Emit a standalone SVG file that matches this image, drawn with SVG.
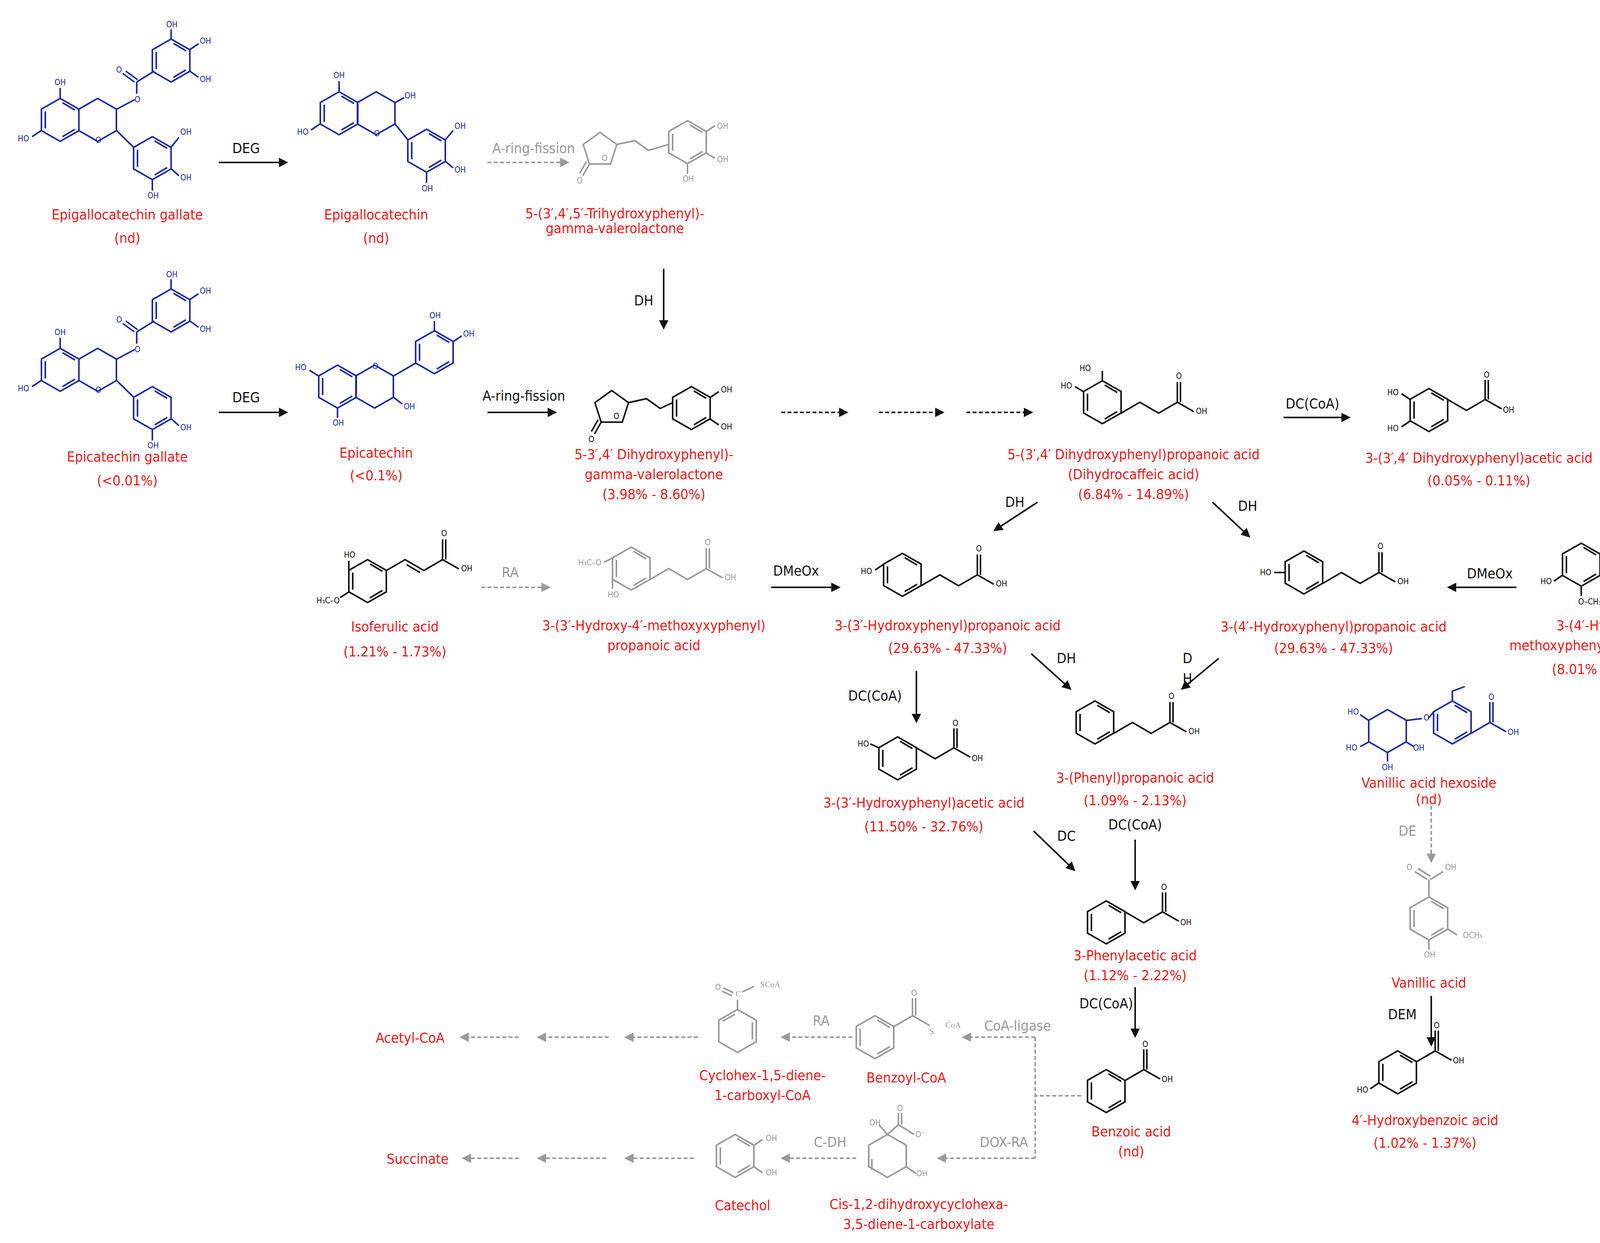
<svg xmlns="http://www.w3.org/2000/svg" width="5008" height="3183" viewBox="0 0 5008 3183">
<style>
.lbl{font-family:"Liberation Sans Narrow","DejaVu Sans Condensed","Liberation Sans",sans-serif;font-size:36px;fill:#f01818;text-anchor:middle}
.al{font-family:"Liberation Sans Narrow","DejaVu Sans Condensed","Liberation Sans",sans-serif;font-size:36px;fill:#111;text-anchor:middle}
.alg{fill:#999}
.at{font-family:"Liberation Sans Narrow","DejaVu Sans Condensed","Liberation Sans",sans-serif;font-size:21px;fill:currentColor;text-anchor:middle}
.k{color:#111}.g{color:#999}.b{color:#1a2aa0}
.bd{fill:none;stroke:currentColor;stroke-width:4}
.ar{stroke:#111;stroke-width:4;fill:none}
.ag{stroke:#999;stroke-width:4;fill:none;stroke-dasharray:10 6}
.ak{stroke:#111;stroke-width:4;fill:none;stroke-dasharray:10 6}
</style>
<defs>
<marker id="mk" markerWidth="6" markerHeight="6" refX="5" refY="3" orient="auto" markerUnits="strokeWidth"><path d="M0,0L6,3L0,6Z" fill="#111"/></marker>
<marker id="mg" markerWidth="6" markerHeight="6" refX="5" refY="3" orient="auto" markerUnits="strokeWidth"><path d="M0,0L6,3L0,6Z" fill="#999"/></marker>
<g id="bz" class="bd"><path d="M0,-55L48,-27.5L48,27.5L0,55L-48,27.5L-48,-27.5Z"/><path d="M6,-44L38,-25M38,24L6,43M-38,22L-38,-22"/></g>
<g id="hx" class="bd"><path d="M0,-55L48,-27.5L48,27.5L0,55L-48,27.5L-48,-27.5Z"/></g>
<g id="pent" class="bd"><path d="M0,-45L43,-14L27,36L-27,36L-43,-14Z"/></g>
<g id="prop"><path class="bd" d="M0,0L48,-28L96,0L144,-28L144,-80M152,-28L152,-80M144,-28L186,-4"/><text class="at" x="148" y="-88">O</text><text class="at" x="206" y="2">OH</text></g>
<g id="acet"><path class="bd" d="M0,0L48,28L96,0L96,-50M104,0L104,-50M96,0L138,24"/><text class="at" x="100" y="-56">O</text><text class="at" x="156" y="34">OH</text></g>
<g id="cooh"><path class="bd" d="M0,0L48,-28L48,-80M56,-28L56,-80M48,-28L90,-4"/><text class="at" x="52" y="-86">O</text><text class="at" x="108" y="4">OH</text></g>
<g id="acry"><path class="bd" d="M0,0L48,-28L96,0L144,-28L144,-80M152,-28L152,-80M144,-28L186,-4M52,-15L86,5"/><text class="at" x="148" y="-88">O</text><text class="at" x="206" y="2">OH</text></g>
</defs>

<g id="egcg" class="b">
<use href="#bz" x="154" y="307"/><use href="#hx" x="250" y="307"/>
<path class="bd" d="M154,252L154,225M106,334L82,350M298,280L345,255M350,240L350,210M350,210L395,182M344,210L314,188M352,204L322,182M298,334L342,377"/>
<use href="#bz" x="438" y="155"/><use href="#bz" x="390" y="405"/>
<path class="bd" d="M438,100L438,75M486,127L508,112M486,182L508,198M438,377L458,352M438,432L458,450M390,460L390,488"/>
<text class="at" x="154" y="218">OH</text><text class="at" x="60" y="362">HO</text><text class="at" x="252" y="366">O</text>
<text class="at" x="352" y="262">O</text><text class="at" x="305" y="186">O</text>
<text class="at" x="440" y="70">OH</text><text class="at" x="526" y="112">OH</text><text class="at" x="526" y="210">OH</text>
<text class="at" x="476" y="345">OH</text><text class="at" x="476" y="462">OH</text><text class="at" x="392" y="508">OH</text>
</g>
<g id="egc" class="b">
<use href="#bz" x="868" y="290"/><use href="#hx" x="963" y="290"/>
<path class="bd" d="M868,235L868,208M820,317L796,333M1011,263L1035,250M1011,317L1044,358"/>
<use href="#bz" x="1092" y="386"/>
<path class="bd" d="M1140,358L1160,334M1140,413L1160,430M1092,441L1092,468"/>
<text class="at" x="868" y="200">OH</text><text class="at" x="775" y="345">HO</text><text class="at" x="965" y="349">O</text><text class="at" x="1050" y="252">OH</text>
<text class="at" x="1178" y="330">OH</text><text class="at" x="1178" y="442">OH</text><text class="at" x="1094" y="490">OH</text>
</g>
<g id="thpvl" class="g">
<use href="#pent" x="1536" y="384"/>
<path class="bd" d="M1509,420L1492,450M1501,414L1484,444M1579,370L1625,360L1660,385L1712,370"/>
<use href="#bz" x="1760" y="364"/>
<path class="bd" d="M1808,337L1830,322M1808,392L1830,405M1760,419L1760,445"/>
<text class="at" x="1484" y="470">O</text><text class="at" x="1548" y="412">O</text>
<text class="at" x="1850" y="330">OH</text><text class="at" x="1850" y="415">OH</text><text class="at" x="1762" y="465">OH</text>
</g>
<g id="ecg" class="b">
<use href="#bz" x="154" y="947"/><use href="#hx" x="250" y="947"/>
<path class="bd" d="M154,892L154,865M106,974L82,990M298,920L345,895M350,880L350,850M350,850L395,822M344,850L314,828M352,844L322,822M298,974L342,1017"/>
<use href="#bz" x="438" y="795"/><use href="#bz" x="390" y="1045"/>
<path class="bd" d="M438,740L438,715M486,767L508,752M486,822L508,838M438,1072L458,1090M390,1100L390,1128"/>
<text class="at" x="154" y="858">OH</text><text class="at" x="60" y="1002">HO</text><text class="at" x="252" y="1006">O</text>
<text class="at" x="352" y="902">O</text><text class="at" x="305" y="826">O</text>
<text class="at" x="440" y="710">OH</text><text class="at" x="526" y="752">OH</text><text class="at" x="526" y="850">OH</text>
<text class="at" x="476" y="1102">OH</text><text class="at" x="392" y="1148">OH</text>
</g>
<g id="ec" class="b">
<use href="#bz" x="864" y="990"/><use href="#hx" x="959" y="990"/>
<path class="bd" d="M816,963L792,948M864,1045L864,1070M1007,1017L1030,1035M1007,963L1064,930"/>
<use href="#bz" x="1112" y="902"/>
<path class="bd" d="M1112,847L1112,822M1160,875L1182,860"/>
<text class="at" x="770" y="948">HO</text><text class="at" x="866" y="1090">OH</text><text class="at" x="961" y="945">O</text><text class="at" x="1048" y="1048">OH</text>
<text class="at" x="1114" y="815">OH</text><text class="at" x="1200" y="862">OH</text>
</g>
<g id="dhpvl" class="k">
<use href="#pent" x="1566" y="1045"/>
<path class="bd" d="M1539,1081L1522,1111M1531,1075L1514,1105M1609,1031L1655,1021L1690,1046L1722,1031"/>
<use href="#bz" x="1770" y="1045"/>
<path class="bd" d="M1818,1018L1840,1003M1818,1073L1840,1088"/>
<text class="at" x="1514" y="1132">O</text><text class="at" x="1578" y="1073">O</text>
<text class="at" x="1860" y="1005">OH</text><text class="at" x="1860" y="1100">OH</text>
</g>
<g id="dhca" class="k">
<use href="#bz" x="2822" y="1030"/>
<path class="bd" d="M2822,975L2822,950M2774,1003L2752,990"/>
<use href="#prop" x="2870" y="1058"/>
<text class="at" x="2778" y="950">HO</text><text class="at" x="2730" y="995">HO</text>
</g>
<g id="dopac" class="k">
<use href="#bz" x="3658" y="1050"/>
<path class="bd" d="M3610,1023L3588,1008M3610,1078L3588,1093"/>
<use href="#acet" x="3706" y="1023"/>
<text class="at" x="3566" y="1012">HO</text><text class="at" x="3566" y="1104">HO</text>
</g>
<g id="isoferulic" class="k">
<use href="#bz" x="941" y="1488"/>
<path class="bd" d="M893,1461L893,1436M893,1516L871,1530"/>
<use href="#acry" x="989" y="1461"/>
<text class="at" x="895" y="1428">HO</text><text class="at" x="840" y="1545">H₃C–O</text>
</g>
<g id="hmpp" class="g">
<use href="#bz" x="1616" y="1456"/>
<path class="bd" d="M1568,1429L1546,1440M1568,1484L1568,1508"/>
<use href="#prop" x="1664" y="1484"/>
<text class="at" x="1510" y="1448">H₃C–O</text><text class="at" x="1570" y="1530">HO</text>
</g>
<g id="hpp3" class="k">
<use href="#bz" x="2310" y="1472"/>
<path class="bd" d="M2262,1445L2240,1460"/>
<use href="#prop" x="2358" y="1500"/>
<text class="at" x="2218" y="1470">HO</text>
</g>
<g id="hpp4" class="k">
<use href="#bz" x="3338" y="1466"/>
<path class="bd" d="M3290,1466L3262,1466"/>
<use href="#prop" x="3386" y="1494"/>
<text class="at" x="3240" y="1473">HO</text>
</g>
<g id="hmpp2" class="k">
<use href="#bz" x="4048" y="1446"/>
<path class="bd" d="M4000,1473L3978,1488M4048,1501L4048,1526"/>
<use href="#prop" x="4096" y="1419"/>
<text class="at" x="3958" y="1496">HO</text><text class="at" x="4070" y="1548">O–CH₃</text>
</g>
<g id="ferulic" class="k">
<use href="#bz" x="4758" y="1491"/>
<path class="bd" d="M4710,1464L4710,1439M4710,1519L4688,1533"/>
<use href="#acry" x="4806" y="1464"/>
<text class="at" x="4670" y="1432">H₃C–O</text><text class="at" x="4666" y="1545">HO</text>
</g>
<g id="hpaa" class="k">
<use href="#bz" x="2298" y="1942"/>
<path class="bd" d="M2250,1915L2228,1905"/>
<use href="#acet" x="2346" y="1915"/>
<text class="at" x="2210" y="1912">HO</text>
</g>
<g id="ppa" class="k">
<use href="#bz" x="2803" y="1850"/>
<use href="#prop" x="2851" y="1878"/>
</g>
<g id="vah" class="b">
<use href="#hx" x="3552" y="1872"/>
<path class="bd" d="M3504,1845L3482,1830M3504,1900L3482,1912M3552,1927L3552,1950M3600,1900L3620,1912M3600,1845L3640,1840"/>
<use href="#bz" x="3718" y="1850"/>
<path class="bd" d="M3718,1795L3718,1770L3750,1758M3670,1823L3656,1840"/>
<use href="#cooh" x="3766" y="1878"/>
<text class="at" x="3464" y="1830">HO</text><text class="at" x="3460" y="1922">HO</text><text class="at" x="3552" y="1972">OH</text><text class="at" x="3632" y="1922">OH</text><text class="at" x="3652" y="1845">O</text>
</g>
<g id="va" class="g">
<use href="#bz" x="3658" y="2352"/>
<path class="bd" d="M3706,2379L3730,2394M3658,2407L3658,2432M3658,2297L3658,2252M3654,2252L3622,2232M3662,2244L3630,2224M3662,2252L3694,2232"/>
<text class="at" x="3608" y="2228">O</text><text class="at" x="3714" y="2228">OH</text>
<text class="at" x="3770" y="2402">OCH₃</text><text class="at" x="3660" y="2452">OH</text>
</g>
<g id="paa" class="k">
<use href="#bz" x="2832" y="2362"/>
<use href="#acet" x="2880" y="2335"/>
</g>
<g id="benzoic" class="k">
<use href="#bz" x="2832" y="2794"/>
<use href="#cooh" x="2880" y="2767"/>
</g>
<g id="hba" class="k">
<use href="#bz" x="3578" y="2746"/>
<path class="bd" d="M3530,2773L3508,2788"/>
<use href="#cooh" x="3626" y="2719"/>
<text class="at" x="3488" y="2798">HO</text>
</g>
<g id="chdcoa" class="g">
<use href="#hx" x="1888" y="2640"/>
<path class="bd" d="M1926,2618L1926,2662M1850,2615L1882,2597"/>
<path class="bd" d="M1888,2585L1888,2560M1878,2542L1852,2530M1874,2550L1848,2538M1900,2540L1930,2526"/>
<text class="at" x="1838" y="2535">O</text><text class="at" x="1890" y="2552" style="font-family:'Liberation Serif',serif">C</text><text class="at" x="1972" y="2528" style="font-family:'Liberation Serif',serif">SCoA</text>
</g>
<g id="bzcoa" class="g">
<use href="#bz" x="2240" y="2656"/>
<path class="bd" d="M2288,2629L2336,2601L2336,2556M2344,2601L2344,2556M2336,2601L2380,2626"/>
<text class="at" x="2340" y="2550">O</text><text class="at" x="2385" y="2648" style="font-family:'Liberation Serif',serif">S</text><text class="at" x="2440" y="2632" style="font-family:'Liberation Serif',serif">CoA</text>
</g>
<g id="catechol" class="g">
<use href="#bz" x="1882" y="2960"/>
<path class="bd" d="M1930,2933L1952,2918M1930,2988L1952,3003"/>
<text class="at" x="1975" y="2922">OH</text><text class="at" x="1975" y="3010">OH</text>
</g>
<g id="dhd" class="g">
<use href="#hx" x="2272" y="2960"/>
<path class="bd" d="M2232,2968L2232,2996M2272,2905L2300,2880L2300,2850M2308,2880L2308,2850M2300,2880L2340,2905M2320,2988L2345,3005M2272,2905L2250,2880"/>
<text class="at" x="2304" y="2845">O</text><text class="at" x="2356" y="2912">O⁻</text><text class="at" x="2240" y="2882">OH</text><text class="at" x="2360" y="3012">OH</text>
</g>

<g id="connectors">
<path class="ar" marker-end="url(#mk)" d="M560,416L734,416"/>
<path class="ag" marker-end="url(#mg)" d="M1248,416L1454,416"/>
<path class="ar" marker-end="url(#mk)" d="M1699,688L1699,840"/>
<path class="ar" marker-end="url(#mk)" d="M560,1056L734,1056"/>
<path class="ar" marker-end="url(#mk)" d="M1248,1056L1422,1056"/>
<path class="ak" marker-end="url(#mk)" d="M2000,1056L2168,1056"/>
<path class="ak" marker-end="url(#mk)" d="M2250,1056L2414,1056"/>
<path class="ak" marker-end="url(#mk)" d="M2474,1056L2641,1056"/>
<path class="ar" marker-end="url(#mk)" d="M3286,1069L3454,1069"/>
<path class="ar" marker-end="url(#mk)" d="M2656,1286L2546,1358"/>
<path class="ar" marker-end="url(#mk)" d="M3104,1286L3198,1374"/>
<path class="ag" marker-end="url(#mg)" d="M1232,1504L1406,1504"/>
<path class="ar" marker-end="url(#mk)" d="M1974,1504L2148,1504"/>
<path class="ar" marker-end="url(#mk)" d="M3882,1504L3708,1504"/>
<path class="ar" marker-end="url(#mk)" d="M4566,1504L4392,1504"/>
<path class="ar" marker-end="url(#mk)" d="M2640,1674L2740,1764"/>
<path class="ar" marker-end="url(#mk)" d="M3120,1686L3026,1764"/>
<path class="ar" marker-end="url(#mk)" d="M2346,1718L2346,1848"/>
<path class="ar" marker-end="url(#mk)" d="M2906,2150L2906,2276"/>
<path class="ar" marker-end="url(#mk)" d="M2646,2128L2750,2228"/>
<path class="ag" marker-end="url(#mg)" d="M3664,2064L3664,2206"/>
<path class="ar" marker-end="url(#mk)" d="M3664,2550L3664,2676"/>
<path class="ar" marker-end="url(#mk)" d="M2906,2528L2906,2654"/>
<path class="ag" marker-end="url(#mg)" d="M2650,2656L2466,2656"/>
<path class="ag" marker-end="url(#mg)" d="M2182,2656L2002,2656"/>
<path class="ag" marker-end="url(#mg)" d="M1786,2656L1602,2656"/>
<path class="ag" marker-end="url(#mg)" d="M1558,2656L1378,2656"/>
<path class="ag" marker-end="url(#mg)" d="M1328,2656L1180,2656"/>
<path class="ag" d="M2768,2806L2650,2806M2650,2656L2650,2966"/>
<path class="ag" marker-end="url(#mg)" d="M2650,2966L2402,2966"/>
<path class="ag" marker-end="url(#mg)" d="M2192,2966L2002,2966"/>
<path class="ag" marker-end="url(#mg)" d="M1776,2966L1602,2966"/>
<path class="ag" marker-end="url(#mg)" d="M1552,2966L1378,2966"/>
<path class="ag" marker-end="url(#mg)" d="M1328,2966L1186,2966"/>
</g>

<g id="arrow-labels">
<text class="al" x="630" y="392">DEG</text>
<text class="al alg" x="1366" y="392">A-ring-fission</text>
<text class="al" x="1648" y="782">DH</text>
<text class="al" x="630" y="1030">DEG</text>
<text class="al" x="1341" y="1026">A-ring-fission</text>
<text class="al" x="3360" y="1046">DC(CoA)</text>
<text class="al" x="2598" y="1298">DH</text>
<text class="al" x="3194" y="1308">DH</text>
<text class="al alg" x="1306" y="1478">RA</text>
<text class="al" x="2038" y="1474">DMeOx</text>
<text class="al" x="3814" y="1481">DMeOx</text>
<text class="al" x="4493" y="1481">RA</text>
<text class="al" x="2730" y="1698">DH</text>
<text class="al" x="3040" y="1698">D</text>
<text class="al" x="3040" y="1750">H</text>
<text class="al" x="2240" y="1794">DC(CoA)</text>
<text class="al" x="2906" y="2124">DC(CoA)</text>
<text class="al" x="2730" y="2153">DC</text>
<text class="al alg" x="3603" y="2140">DE</text>
<text class="al" x="3590" y="2610">DEM</text>
<text class="al" x="2832" y="2582">DC(CoA)</text>
<text class="al alg" x="2605" y="2639">CoA-ligase</text>
<text class="al alg" x="2102" y="2626">RA</text>
<text class="al alg" x="2570" y="2937">DOX-RA</text>
<text class="al alg" x="2125" y="2937">C-DH</text>
</g>

<g id="names">
<text class="lbl" x="326" y="562">Epigallocatechin gallate</text><text class="lbl" x="326" y="622">(nd)</text>
<text class="lbl" x="963" y="562">Epigallocatechin</text><text class="lbl" x="963" y="622">(nd)</text>
<text class="lbl" x="1574" y="559">5-(3′,4′,5′-Trihydroxyphenyl)-</text><text class="lbl" x="1574" y="597">gamma-valerolactone</text>
<text class="lbl" x="326" y="1182">Epicatechin gallate</text><text class="lbl" x="326" y="1243">(&lt;0.01%)</text>
<text class="lbl" x="963" y="1172">Epicatechin</text><text class="lbl" x="963" y="1230">(&lt;0.1%)</text>
<text class="lbl" x="1674" y="1176">5-3′,4′ Dihydroxyphenyl)-</text><text class="lbl" x="1674" y="1227">gamma-valerolactone</text><text class="lbl" x="1674" y="1278">(3.98% - 8.60%)</text>
<text class="lbl" x="2902" y="1176">5-(3′,4′ Dihydroxyphenyl)propanoic acid</text><text class="lbl" x="2902" y="1227">(Dihydrocaffeic acid)</text><text class="lbl" x="2902" y="1278">(6.84% - 14.89%)</text>
<text class="lbl" x="3786" y="1185">3-(3′,4′ Dihydroxyphenyl)acetic acid</text><text class="lbl" x="3786" y="1243">(0.05% - 0.11%)</text>
<text class="lbl" x="1011" y="1617">Isoferulic acid</text><text class="lbl" x="1011" y="1681">(1.21% - 1.73%)</text>
<text class="lbl" x="1674" y="1614">3-(3′-Hydroxy-4′-methoxyxyphenyl)</text><text class="lbl" x="1674" y="1665">propanoic acid</text>
<text class="lbl" x="2426" y="1614">3-(3′-Hydroxyphenyl)propanoic acid</text><text class="lbl" x="2426" y="1672">(29.63% - 47.33%)</text>
<text class="lbl" x="3414" y="1617">3-(4′-Hydroxyphenyl)propanoic acid</text><text class="lbl" x="3414" y="1672">(29.63% - 47.33%)</text>
<text class="lbl" x="4115" y="1614">3-(4′-Hydroxy-3-</text><text class="lbl" x="4115" y="1665">methoxyphenyl)propanoic acid</text><text class="lbl" x="4115" y="1726">(8.01% - 19.22%)</text>
<text class="lbl" x="4746" y="1630">Ferulic acid</text><text class="lbl" x="4746" y="1684">(&lt;LOQ)</text>
<text class="lbl" x="2365" y="2068">3-(3′-Hydroxyphenyl)acetic acid</text><text class="lbl" x="2365" y="2129">(11.50% - 32.76%)</text>
<text class="lbl" x="2906" y="2004">3-(Phenyl)propanoic acid</text><text class="lbl" x="2906" y="2062">(1.09% - 2.13%)</text>
<text class="lbl" x="3658" y="2017">Vanillic acid hexoside</text><text class="lbl" x="3658" y="2059">(nd)</text>
<text class="lbl" x="3658" y="2529">Vanillic acid</text>
<text class="lbl" x="2906" y="2459">3-Phenylacetic acid</text><text class="lbl" x="2906" y="2510">(1.12% - 2.22%)</text>
<text class="lbl" x="2896" y="2910">Benzoic acid</text><text class="lbl" x="2896" y="2961">(nd)</text>
<text class="lbl" x="3648" y="2881">4′-Hydroxybenzoic acid</text><text class="lbl" x="3648" y="2939">(1.02% - 1.37%)</text>
<text class="lbl" x="1050" y="2670">Acetyl-CoA</text>
<text class="lbl" x="1952" y="2766">Cyclohex-1,5-diene-</text><text class="lbl" x="1952" y="2817">1-carboxyl-CoA</text>
<text class="lbl" x="2320" y="2772">Benzoyl-CoA</text>
<text class="lbl" x="1069" y="2980">Succinate</text>
<text class="lbl" x="1901" y="3099">Catechol</text>
<text class="lbl" x="2352" y="3096">Cis-1,2-dihydroxycyclohexa-</text><text class="lbl" x="2352" y="3147">3,5-diene-1-carboxylate</text>
</g>
</svg>
